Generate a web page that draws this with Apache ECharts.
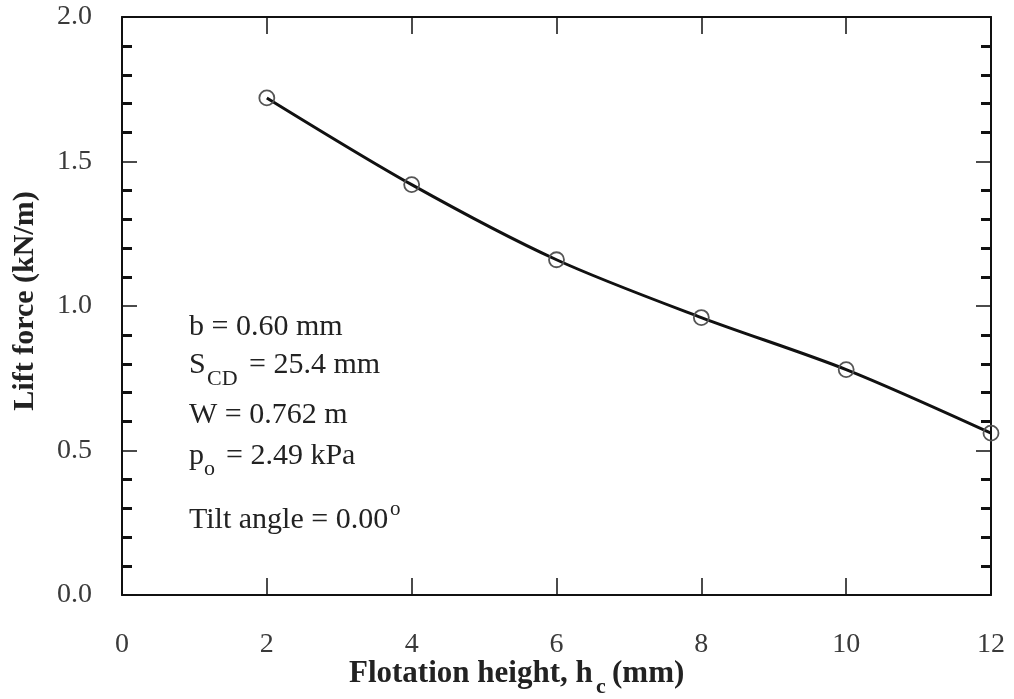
<!DOCTYPE html>
<html>
<head>
<meta charset="utf-8">
<script src="https://cdn.jsdelivr.net/npm/echarts@6/dist/echarts.min.js"></script>
<style>
  html, body { margin: 0; padding: 0; background: #fff; }
  #main { width: 1014px; height: 699px; }
</style>
</head>
<body>
<div id="main"></div>
<script>
// flotation height h_c (mm) vs lift force (kN/m)
const heights = [2, 4, 6, 8, 10, 12]
const liftForce = [1.72, 1.42, 1.16, 0.96, 0.78, 0.56]
const xTicks = [0, 2, 4, 6, 8, 10, 12]
const yTicks = [0.0, 0.5, 1.0, 1.5, 2.0]

const serif = '"Liberation Serif", "DejaVu Serif", serif'
const chart = echarts.init(document.getElementById('main'))

// box-style axis: same ticks on all four sides
function xAx (pos, showLabel) {
  return {
    type: 'value', position: pos,
    min: xTicks[0], max: xTicks[xTicks.length - 1], interval: 2,
    axisLine: { show: true, onZero: false, lineStyle: { color: '#111', width: 2 } },
    axisTick: { show: true, inside: true, length: 17, lineStyle: { color: '#111', width: 1.5 } },
    axisLabel: { show: showLabel, margin: 36, color: '#3a3a3a', fontFamily: serif, fontSize: 28 },
    splitLine: { show: false }
  }
}
function yAx (pos, showLabel) {
  return {
    type: 'value', position: pos,
    min: yTicks[0], max: yTicks[yTicks.length - 1], interval: 0.5,
    axisLine: { show: true, onZero: false, lineStyle: { color: '#111', width: 2 } },
    axisTick: { show: true, inside: true, length: 15, lineStyle: { color: '#111', width: 1.5 } },
    minorTick: { show: true, splitNumber: 5, length: 10, lineStyle: { color: '#111', width: 3 } },
    axisLabel: {
      show: showLabel, margin: 30, color: '#3a3a3a', fontFamily: serif, fontSize: 28,
      formatter: v => v.toFixed(1)
    },
    splitLine: { show: false }
  }
}

function note (x, y, text, size, bold) {
  return {
    type: 'text', left: x, top: y,
    style: {
      text: text, fontFamily: serif, fontSize: size || 30,
      fontWeight: bold ? 'bold' : 'normal', fill: '#222'
    }
  }
}

chart.setOption({
  backgroundColor: '#fff',
  animation: false,
  grid: { left: 122, right: 23, top: 17, bottom: 104 },
  xAxis: [xAx('bottom', true), xAx('top', false)],
  yAxis: [yAx('left', true), yAx('right', false)],
  series: [{
    type: 'line',
    data: heights.map((h, i) => [h, liftForce[i]]),
    smooth: 0.3,
    symbol: 'circle',
    symbolSize: 15,
    lineStyle: { color: '#111', width: 3 },
    itemStyle: { color: 'rgba(255,255,255,0)', borderColor: '#555', borderWidth: 1.8 }
  }],
  graphic: [
    note(189, 312, 'b = 0.60 mm'),
    note(189, 350, 'S'),
    note(207, 368, 'CD', 22),
    note(249, 350, '= 25.4 mm'),
    note(189, 400, 'W = 0.762 m'),
    note(189, 441, 'p'),
    note(204, 458, 'o', 22),
    note(226, 441, '= 2.49 kPa'),
    note(189, 505, 'Tilt angle = 0.00'),
    note(390, 499, 'o', 21),
    note(349, 658, 'Flotation height, h', 31, true),
    note(596, 676, 'c', 22, true),
    note(612, 658, '(mm)', 31, true),
    {
      type: 'text', x: 25, y: 301, rotation: Math.PI / 2,
      style: {
        text: 'Lift force (kN/m)', fontFamily: serif, fontSize: 30, fontWeight: 'bold', fill: '#222',
        align: 'center', verticalAlign: 'middle'
      }
    }
  ]
})
</script>
</body>
</html>
